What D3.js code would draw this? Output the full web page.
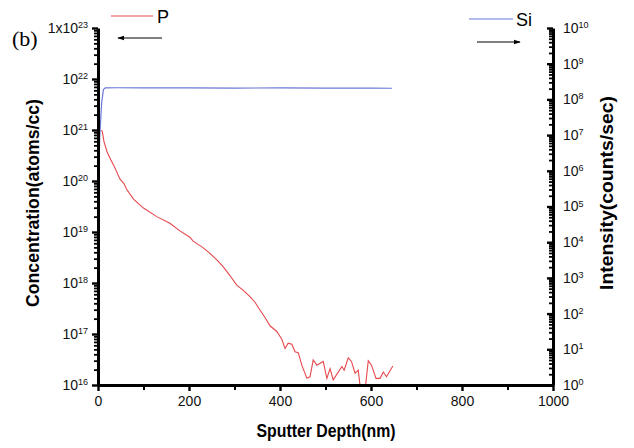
<!DOCTYPE html>
<html>
<head>
<meta charset="utf-8">
<script src="https://cdn.jsdelivr.net/npm/d3@7"></script>
<style>
  body { margin: 0; background: #fff; }
  svg { display: block; font-family: "Liberation Sans", Arial, sans-serif; }
</style>
</head>
<body>
<svg id="chart" width="634" height="448"></svg>
<script>
// depth (nm) and P concentration (atoms/cc)
var pDepth = [8, 10, 13, 20, 28, 35, 48, 57, 63, 78, 100, 129, 158, 180, 202, 209, 230, 246, 260, 275,
  290, 305, 320, 334, 345, 356, 367, 378, 393, 404, 411, 418, 426, 433, 440, 448, 459, 466, 473, 481,
  495, 503, 510, 517, 536, 541, 550, 557, 565, 572, 577, 587, 594, 601, 611, 620, 627, 634, 648];
var pConc = [1.0e21, 8.9e20, 6.0e20, 3.7e20, 2.6e20, 2.0e20, 1.1e20, 8.9e19, 6.9e19, 4.4e19, 2.95e19, 2.0e19, 1.48e19, 1.05e19, 7.9e18, 6.6e18, 5.0e18, 3.8e18, 2.9e18, 2.1e18,
  1.4e18, 9.1e17, 7.1e17, 5.4e17, 4.2e17, 2.95e17, 2.1e17, 1.45e17, 1.12e17, 7.9e16, 5.2e16, 6.6e16, 6.3e16, 4.5e16, 4.3e16, 2.45e16, 1.35e16, 1.45e16, 3.1e16, 2.45e16,
  2.9e16, 1.35e16, 2.1e16, 1.26e16, 2.3e16, 1.95e16, 3.4e16, 2.9e16, 1.7e16, 1.95e16, 8e15, 8e15, 3.0e16, 2.45e16, 1.35e16, 1.35e16, 1.8e16, 1.45e16, 2.35e16];

// depth (nm) and Si intensity (counts/sec)
var siDepth = [1, 4, 8, 12, 16, 40, 100, 200, 300, 400, 500, 600, 646];
var siInt = [5.5e5, 1.0e7, 8e7, 1.9e8, 2.1e8, 2.12e8, 2.1e8, 2.1e8, 2.08e8, 2.1e8, 2.08e8, 2.06e8, 2.05e8];

var xTicks = [0, 200, 400, 600, 800, 1000];
var xMinor = [100, 300, 500, 700, 900];
var yLeftTicks = [1e16, 1e17, 1e18, 1e19, 1e20, 1e21, 1e22, 1e23];
var yRightTicks = [1e0, 1e1, 1e2, 1e3, 1e4, 1e5, 1e6, 1e7, 1e8, 1e9, 1e10];

var svg = d3.select("#chart");
var pl = 98, pr = 553, pt = 28, pb = 385;

var x = d3.scaleLinear().domain([0, 1000]).range([pl, pr]);
var yL = d3.scaleLog().domain([1e16, 1e23]).range([pb, pt]);
var yR = d3.scaleLog().domain([1, 1e10]).range([pb, pt]);

// minor ticks for log axes
function minors(majors) {
  var out = [];
  majors.slice(0, -1).forEach(function(m) {
    for (var k = 2; k <= 9; k++) out.push(m * k);
  });
  return out;
}

function supLabels(g, first) {
  g.selectAll(".tick text").each(function(d) {
    var t = d3.select(this);
    var e = Math.round(Math.log10(d));
    t.text(null);
    t.append("tspan").text(first && e === 23 ? "1x10" : "10");
    t.append("tspan").attr("dy", "-0.55em").attr("font-size", "9px").text(e);
  });
}

svg.append("defs").append("clipPath").attr("id", "plot")
  .append("rect").attr("x", pl).attr("y", pt).attr("width", pr - pl).attr("height", pb - pt);

// series
var lineP = d3.line().x(function(d, i) { return x(pDepth[i]); }).y(function(d) { return yL(d); });
var lineSi = d3.line().x(function(d, i) { return x(siDepth[i]); }).y(function(d) { return yR(d); });

svg.append("path").datum(siInt).attr("d", lineSi)
  .attr("fill", "none").attr("stroke", "#6a78d6").attr("stroke-width", 1.2)
  .attr("clip-path", "url(#plot)");
svg.append("path").datum(pConc).attr("d", lineP)
  .attr("fill", "none").attr("stroke", "#e5484d").attr("stroke-width", 1.1)
  .attr("clip-path", "url(#plot)");

// left axis
svg.append("g").attr("transform", "translate(" + pl + ",0)")
  .call(d3.axisLeft(yL).tickValues(minors(yLeftTicks)).tickSize(4).tickFormat(""))
  .call(function(g) { g.select(".domain").remove(); g.selectAll("line").attr("stroke-width", 1.8); });
var gL = svg.append("g").attr("transform", "translate(" + pl + ",0)")
  .call(d3.axisLeft(yL).tickValues(yLeftTicks).tickSizeInner(6).tickSizeOuter(0).tickPadding(4))
  .call(function(g) {
    g.select(".domain").attr("stroke-width", 3);
    g.selectAll("line").attr("stroke-width", 2.4);
    g.selectAll("text").attr("font-size", "14px").attr("fill", "#111");
  });
supLabels(gL, true);

// right axis (ticks inward)
svg.append("g").attr("transform", "translate(" + pr + ",0)")
  .call(d3.axisRight(yR).tickValues(minors(yRightTicks)).tickSize(-4).tickFormat(""))
  .call(function(g) { g.select(".domain").remove(); g.selectAll("line").attr("stroke-width", 1.8); });
var gR = svg.append("g").attr("transform", "translate(" + pr + ",0)")
  .call(d3.axisRight(yR).tickValues(yRightTicks).tickSizeInner(-6).tickSizeOuter(0).tickPadding(10))
  .call(function(g) {
    g.select(".domain").attr("stroke-width", 3);
    g.selectAll("line").attr("stroke-width", 2.4);
    g.selectAll("text").attr("font-size", "14px").attr("fill", "#111");
  });
supLabels(gR, false);

// bottom axis
svg.append("g").attr("transform", "translate(0," + pb + ")")
  .call(d3.axisBottom(x).tickValues(xMinor).tickSize(5).tickFormat(""))
  .call(function(g) { g.select(".domain").remove(); g.selectAll("line").attr("stroke-width", 2); });
svg.append("g").attr("transform", "translate(0," + pb + ")")
  .call(d3.axisBottom(x).tickValues(xTicks).tickFormat(d3.format("d"))
    .tickSizeInner(6).tickSizeOuter(0).tickPadding(5))
  .call(function(g) {
    g.select(".domain").attr("stroke-width", 3);
    g.selectAll("line").attr("stroke-width", 2.4);
    g.selectAll("text").attr("font-size", "14px").attr("fill", "#111");
  });

// axis titles
svg.append("text").attr("x", 326).attr("y", 437).attr("text-anchor", "middle")
  .attr("font-size", "18px").attr("font-weight", "bold").attr("textLength", 139)
  .attr("lengthAdjust", "spacingAndGlyphs").text("Sputter Depth(nm)");
svg.append("text").attr("transform", "translate(39,203) rotate(-90)").attr("text-anchor", "middle")
  .attr("font-size", "18px").attr("font-weight", "bold").attr("textLength", 208)
  .attr("lengthAdjust", "spacingAndGlyphs").text("Concentration(atoms/cc)");
svg.append("text").attr("transform", "translate(613,193) rotate(-90)").attr("text-anchor", "middle")
  .attr("font-size", "18px").attr("font-weight", "bold").attr("textLength", 194)
  .attr("lengthAdjust", "spacingAndGlyphs").text("Intensity(counts/sec)");

// panel label
svg.append("text").attr("x", 12).attr("y", 46).attr("font-family", "'Liberation Serif', serif")
  .attr("font-size", "22px").text("(b)");

// legend
svg.append("defs").append("marker").attr("id", "arrow").attr("viewBox", "0 0 10 10")
  .attr("refX", 9).attr("refY", 5).attr("markerWidth", 6).attr("markerHeight", 6).attr("orient", "auto")
  .append("path").attr("d", "M0,1.5L10,5L0,8.5Z").attr("fill", "#000");

svg.append("line").attr("x1", 111).attr("x2", 153).attr("y1", 16).attr("y2", 16)
  .attr("stroke", "#e5484d").attr("stroke-width", 1.2);
svg.append("text").attr("x", 157).attr("y", 23).attr("font-size", "18px").text("P");
svg.append("line").attr("x1", 162).attr("x2", 118).attr("y1", 38).attr("y2", 38)
  .attr("stroke", "#000").attr("stroke-width", 1.2).attr("marker-end", "url(#arrow)");

svg.append("line").attr("x1", 469).attr("x2", 513).attr("y1", 19).attr("y2", 19)
  .attr("stroke", "#6a78d6").attr("stroke-width", 1.2);
svg.append("text").attr("x", 516).attr("y", 26).attr("font-size", "18px").text("Si");
svg.append("line").attr("x1", 477).attr("x2", 520).attr("y1", 42).attr("y2", 42)
  .attr("stroke", "#000").attr("stroke-width", 1.2).attr("marker-end", "url(#arrow)");
</script>
</body>
</html>
